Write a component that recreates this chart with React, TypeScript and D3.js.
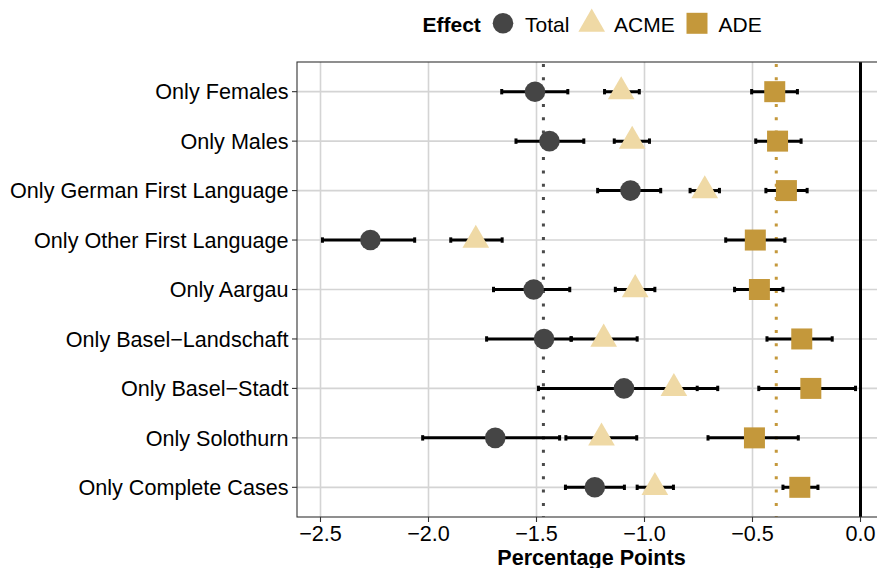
import * as d3 from 'd3'

const categories = [
  'Only Females',
  'Only Males',
  'Only German First Language',
  'Only Other First Language',
  'Only Aargau',
  'Only Basel\u2212Landschaft',
  'Only Basel\u2212Stadt',
  'Only Solothurn',
  'Only Complete Cases',
]

const totalEst = [-1.507, -1.44, -1.065, -2.269, -1.513, -1.465, -1.095, -1.691, -1.23]
const totalLo = [-1.661, -1.595, -1.217, -2.491, -1.699, -1.731, -1.491, -2.027, -1.366]
const totalHi = [-1.355, -1.281, -0.925, -2.064, -1.346, -1.338, -0.756, -1.393, -1.093]

const acmeEst = [-1.108, -1.057, -0.721, -1.781, -1.043, -1.189, -0.864, -1.199, -0.952]
const acmeLo = [-1.185, -1.14, -0.789, -1.897, -1.135, -1.341, -1.067, -1.364, -1.034]
const acmeHi = [-1.024, -0.977, -0.653, -1.659, -0.952, -1.034, -0.661, -1.036, -0.866]

const adeEst = [-0.397, -0.384, -0.343, -0.487, -0.468, -0.272, -0.23, -0.491, -0.281]
const adeLo = [-0.504, -0.485, -0.438, -0.624, -0.583, -0.433, -0.471, -0.706, -0.359]
const adeHi = [-0.292, -0.275, -0.247, -0.35, -0.359, -0.131, -0.023, -0.288, -0.197]

// average effects (dotted reference lines)
const refLines = [
  { effect: 'Total', value: -1.468 },
  { effect: 'ADE', value: -0.39 },
]

const xTicks = [-2.5, -2.0, -1.5, -1.0, -0.5, 0.0]
const effects = ['Total', 'ACME', 'ADE']

const W = 877
const H = 568
const PANEL = { left: 297, right: 886, top: 62, bottom: 517 }
const FONT = '"Liberation Sans", Arial, Helvetica, sans-serif'
const AXIS_FS = 21.6

const color: Record<string, string> = { Total: '#454545', ACME: '#EFD9A5', ADE: '#C4983B' }
const symbolType: Record<string, any> = {
  Total: d3.symbolCircle,
  ACME: d3.symbolTriangle,
  ADE: d3.symbolSquare,
}
const symbolSize: Record<string, number> = { Total: 333, ACME: 308, ADE: 441 }

const x = d3.scaleLinear().domain([-2.5, 0]).range([320.5, 860.5])
const y = d3.scalePoint<string>().domain(categories).range([PANEL.top, PANEL.bottom]).padding(0.6)

const fmt = (v: number) => d3.format('.1f')(v).replace('-', '\u2212')

const rows = categories.map((c, i) => ({
  cat: c,
  Total: { est: totalEst[i], lo: totalLo[i], hi: totalHi[i] },
  ACME: { est: acmeEst[i], lo: acmeLo[i], hi: acmeHi[i] },
  ADE: { est: adeEst[i], lo: adeLo[i], hi: adeHi[i] },
}))

const sym = (e: string) => d3.symbol().type(symbolType[e]).size(symbolSize[e])() as string

const Legend = () => {
  const items = [
    { e: 'Total', cx: 503, tx: 525 },
    { e: 'ACME', cx: 591.7, tx: 614 },
    { e: 'ADE', cx: 697, tx: 718.5 },
  ]
  return (
    <g>
      <text x={422.5} y={31.5} fontSize={21} fontWeight="bold" fontFamily={FONT}>
        Effect
      </text>
      {items.map((it) => (
        <g key={it.e}>
          <path
            d={sym(it.e)}
            transform={`translate(${it.cx},${it.e === 'ACME' ? 24 : 23.3})`}
            fill={color[it.e]}
          />
          <text x={it.tx} y={31.5} fontSize={21} fontFamily={FONT}>
            {it.e}
          </text>
        </g>
      ))}
    </g>
  )
}

export default function App() {
  return (
    <svg
      width={W}
      height={H}
      style={{ position: 'absolute', left: 0, top: 0, background: '#fff' }}
    >
      <Legend />

      {/* grid */}
      <g>
        {xTicks.map((t) => (
          <line key={t} x1={x(t)} x2={x(t)} y1={PANEL.top} y2={PANEL.bottom} stroke="#D4D4D4" strokeWidth={1.6} />
        ))}
        {categories.map((c) => (
          <line key={c} x1={PANEL.left} x2={PANEL.right} y1={y(c)} y2={y(c)} stroke="#D4D4D4" strokeWidth={1.6} />
        ))}
      </g>

      {/* zero line */}
      <line x1={x(0)} x2={x(0)} y1={PANEL.top} y2={PANEL.bottom} stroke="#000" strokeWidth={3} />

      {/* average effect lines */}
      {refLines.map((r) => (
        <line
          key={r.effect}
          x1={x(r.value)}
          x2={x(r.value)}
          y1={PANEL.top + 2}
          y2={PANEL.bottom}
          stroke={r.effect === 'Total' ? '#4a4a4a' : color.ADE}
          strokeWidth={3}
          strokeDasharray="3 10.3"
        />
      ))}

      {/* error bars */}
      {rows.map((r) =>
        effects.map((e) => {
          const d = (r as any)[e]
          const yy = y(r.cat) as number
          return (
            <g key={r.cat + e} stroke="#000">
              <line x1={x(d.lo)} x2={x(d.hi)} y1={yy} y2={yy} strokeWidth={3} />
              <line x1={x(d.lo)} x2={x(d.lo)} y1={yy - 2.7} y2={yy + 2.7} strokeWidth={3} />
              <line x1={x(d.hi)} x2={x(d.hi)} y1={yy - 2.7} y2={yy + 2.7} strokeWidth={3} />
            </g>
          )
        })
      )}

      {/* points */}
      {rows.map((r) =>
        effects.map((e) => (
          <path
            key={r.cat + e + 'p'}
            d={sym(e)}
            transform={`translate(${x((r as any)[e].est)},${y(r.cat)})`}
            fill={color[e]}
          />
        ))
      )}

      {/* panel border */}
      <rect
        x={PANEL.left}
        y={PANEL.top}
        width={PANEL.right - PANEL.left}
        height={PANEL.bottom - PANEL.top}
        fill="none"
        stroke="#333"
        strokeWidth={1.1}
      />

      {/* y axis */}
      {categories.map((c) => (
        <g key={c} transform={`translate(0,${y(c)})`}>
          <line x1={292} x2={PANEL.left} stroke="#333" strokeWidth={1.1} />
          <text x={288.5} dy="0.36em" textAnchor="end" fontSize={AXIS_FS} fontFamily={FONT} fill="#000">
            {c}
          </text>
        </g>
      ))}

      {/* x axis */}
      {xTicks.map((t) => (
        <g key={t} transform={`translate(${x(t)},0)`}>
          <line y1={PANEL.bottom} y2={PANEL.bottom + 5} stroke="#333" strokeWidth={1.1} />
          <text y={540.7} textAnchor="middle" fontSize={AXIS_FS} fontFamily={FONT} fill="#000">
            {fmt(t)}
          </text>
        </g>
      ))}
      <text
        x={(PANEL.left + PANEL.right) / 2}
        y={564.5}
        textAnchor="middle"
        fontSize={AXIS_FS}
        fontWeight="bold"
        fontFamily={FONT}
      >
        Percentage Points
      </text>
    </svg>
  )
}
